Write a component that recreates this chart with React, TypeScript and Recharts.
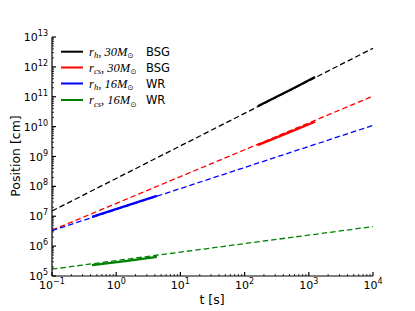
import React from 'react';
import { LineChart, Line, XAxis, YAxis } from 'recharts';

// dashed analytic extrapolations (full time range)
const dashT = [0.1, 10000];
const rhBSGDash = [1.5e7, 4.2e12];
const rcsBSGDash = [3.4e6, 1.05e11];
const rhWRDash = [3.3e6, 1.1e10];
const rcsWRDash = [1.7e5, 4.5e6];

// solid simulation segments
const bsgT = [160, 600, 1250];
const rhBSG = [4.8e10, 2.0e11, 4.6e11];
const rcsBSG = [2.4e9, 7.6e9, 1.45e10];
const wrT = [0.42, 1.5, 4.3];
const rhWR = [9.5e6, 2.3e7, 4.8e7];
const rcsWR = [2.3e5, 3.2e5, 4.4e5];

const xMajor = [0.1, 1, 10, 100, 1000, 10000];
const yMajor = [1e5, 1e6, 1e7, 1e8, 1e9, 1e10, 1e11, 1e12, 1e13];

const legendLabels = [
  { sym: 'h', mass: '30', star: 'BSG', color: '#000000' },
  { sym: 'cs', mass: '30', star: 'BSG', color: '#ff0000' },
  { sym: 'h', mass: '16', star: 'WR', color: '#0000ff' },
  { sym: 'cs', mass: '16', star: 'WR', color: '#008000' },
];

const withMinors = (majors: number[]) => {
  const out: number[] = [];
  majors.forEach((m, i) => {
    out.push(m);
    if (i < majors.length - 1) for (let k = 2; k <= 9; k++) out.push(m * k);
  });
  return out;
};
const xTicks = withMinors(xMajor);
const yTicks = withMinors(yMajor);

const mk = (t: number[], v: number[]) => t.map((x, i) => ({ t: x, v: v[i] }));

const isMajor = (v: number) => {
  const l = Math.log10(v);
  return Math.abs(l - Math.round(l)) < 1e-6;
};
const expStr = (v: number) => {
  const e = Math.round(Math.log10(v));
  return e < 0 ? '\u2212' + Math.abs(e) : String(e);
};

const XTick = (props: any) => {
  const { x, y, payload } = props;
  const major = isMajor(payload.value);
  return (
    <g>
      <line x1={x} x2={x} y1={y} y2={y - (major ? 4 : 2)} stroke="#000" strokeWidth={major ? 1.2 : 0.8} />
      {major && (
        <text x={x} y={y + 13} textAnchor="middle" fontSize={11} fontFamily="DejaVu Sans" fill="#000">
          10<tspan dy={-5} fontSize={8}>{expStr(payload.value)}</tspan>
        </text>
      )}
    </g>
  );
};

const YTick = (props: any) => {
  const { x, y, payload } = props;
  const major = isMajor(payload.value);
  return (
    <g>
      <line x1={x} x2={x + (major ? 4 : 2)} y1={y} y2={y} stroke="#000" strokeWidth={major ? 1.2 : 0.8} />
      {major && (
        <text x={x - 4} y={y + 4} textAnchor="end" fontSize={11} fontFamily="DejaVu Sans" fill="#000">
          10<tspan dy={-5} fontSize={8}>{expStr(payload.value)}</tspan>
        </text>
      )}
    </g>
  );
};

const dashes = [
  { data: mk(dashT, rhBSGDash), color: '#000000' },
  { data: mk(dashT, rcsBSGDash), color: '#ff0000' },
  { data: mk(dashT, rhWRDash), color: '#0000ff' },
  { data: mk(dashT, rcsWRDash), color: '#008000' },
];
const solids = [
  { data: mk(bsgT, rhBSG), color: '#000000' },
  { data: mk(bsgT, rcsBSG), color: '#ff0000' },
  { data: mk(wrT, rhWR), color: '#0000ff' },
  { data: mk(wrT, rcsWR), color: '#008000' },
];

export default function App() {
  const rowY = [51.7, 67.5, 83.5, 100];
  return (
    <div style={{ position: 'absolute', left: 0, top: 0, width: 415, height: 311, background: '#fff' }}>
      <LineChart width={415} height={311} margin={{ top: 37, right: 42, left: 0, bottom: 0 }}>
        <XAxis
          dataKey="t"
          type="number"
          scale="log"
          domain={[0.1, 10000]}
          allowDataOverflow
          ticks={xTicks}
          interval={0}
          tick={<XTick />}
          tickLine={false}
          tickSize={0}
          tickMargin={0}
          height={35}
          axisLine={{ stroke: '#555', strokeWidth: 1.5 }}
        />
        <XAxis
          xAxisId="top"
          orientation="top"
          type="number"
          scale="log"
          domain={[0.1, 10000]}
          allowDataOverflow
          tick={false}
          tickLine={false}
          height={0}
          axisLine={{ stroke: '#555', strokeWidth: 1.2 }}
        />
        <YAxis
          type="number"
          scale="log"
          domain={[1e5, 1e13]}
          allowDataOverflow
          ticks={yTicks}
          interval={0}
          tick={<YTick />}
          tickLine={false}
          tickSize={0}
          tickMargin={0}
          width={52}
          axisLine={{ stroke: '#000', strokeWidth: 1.2 }}
        />
        <YAxis
          yAxisId="right"
          orientation="right"
          type="number"
          scale="log"
          domain={[1e5, 1e13]}
          allowDataOverflow
          tick={false}
          tickLine={false}
          width={0}
          axisLine={{ stroke: '#000', strokeWidth: 1.2 }}
        />
        {dashes.map((d, i) => (
          <Line
            key={'d' + i}
            data={d.data}
            dataKey="v"
            stroke={d.color}
            strokeWidth={1.3}
            strokeDasharray="5.5 3"
            dot={false}
            isAnimationActive={false}
          />
        ))}
        {solids.map((d, i) => (
          <Line
            key={'s' + i}
            data={d.data}
            dataKey="v"
            stroke={d.color}
            strokeWidth={2.3}
            dot={false}
            isAnimationActive={false}
          />
        ))}
      </LineChart>
      <svg width={415} height={311} style={{ position: 'absolute', left: 0, top: 0, pointerEvents: 'none' }}>
        {legendLabels.map((l, i) => (
          <g key={i}>
            <line x1={61} x2={83} y1={rowY[i]} y2={rowY[i]} stroke={l.color} strokeWidth={2} />
            <text x={89} y={rowY[i] + 4} fontSize={12.5} fontFamily="Liberation Serif" fontStyle="italic" fill="#000">
              r<tspan dy={2.5} fontSize={8.5}>{l.sym}</tspan>
              <tspan dy={-2.5}>, </tspan>
              <tspan>{l.mass}</tspan>
              <tspan>M</tspan>
              <tspan dy={2.5} fontSize={7.5} fontStyle="normal" fontFamily="DejaVu Sans">{'\u2299'}</tspan>
            </text>
            <text x={146} y={rowY[i] + 4} fontSize={11.5} fontFamily="DejaVu Sans" fill="#000">
              {l.star}
            </text>
          </g>
        ))}
        <text x={212} y={304} textAnchor="middle" fontSize={12.5} fontFamily="DejaVu Sans" fill="#000">
          t [s]
        </text>
        <text
          x={20}
          y={156}
          textAnchor="middle"
          fontSize={12.5}
          fontFamily="DejaVu Sans"
          fill="#000"
          transform="rotate(-90 20 156)"
        >
          Position [cm]
        </text>
      </svg>
    </div>
  );
}
